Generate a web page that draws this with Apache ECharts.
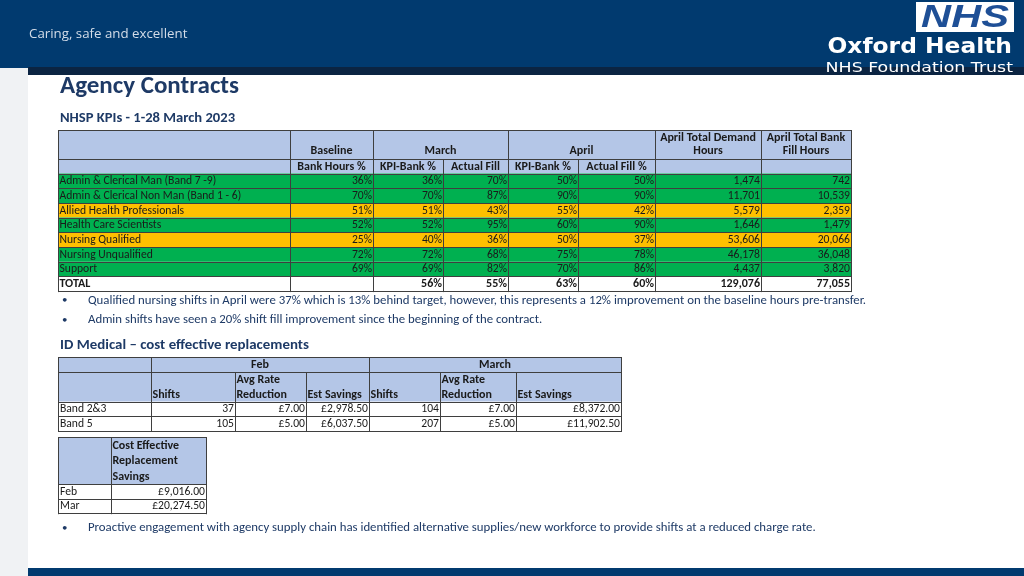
<!DOCTYPE html>
<html><head><meta charset="utf-8">
<script src="https://cdn.jsdelivr.net/npm/echarts@6/dist/echarts.min.js"></script>
<style>html,body{margin:0;padding:0;background:#fff}#c{width:1024px;height:576px}</style>
</head><body><div id="c"></div>
<script>
// ---------------- DATA ----------------
const kpiCategories = ['Admin & Clerical Man (Band 7 -9)', 'Admin & Clerical Non Man (Band 1 - 6)', 'Allied Health Professionals', 'Health Care Scientists', 'Nursing Qualified', 'Nursing Unqualified', 'Support'];
const baselineBankPct = [36, 70, 51, 52, 25, 72, 69];
const marchKpiBankPct = [36, 70, 51, 52, 40, 72, 69];
const marchActualFillPct = [70, 87, 43, 95, 36, 68, 82];
const aprilKpiBankPct = [50, 90, 55, 60, 50, 75, 70];
const aprilActualFillPct = [50, 90, 42, 90, 37, 78, 86];
const aprilDemandHours = [1474, 11701, 5579, 1646, 53606, 46178, 4437];
const aprilBankFillHours = [742, 10539, 2359, 1479, 20066, 36048, 3820];
const kpiStatus = ['green', 'green', 'amber', 'green', 'amber', 'green', 'green'];
const kpiTotalLabel = 'TOTAL';
const kpiTotals = [null, 56, 55, 63, 60, 129076, 77055];

const idBands = ['Band 2&3', 'Band 5'];
const febShifts = [37, 105];
const febAvgRateReduction = [7.00, 5.00];
const febEstSavings = [2978.50, 6037.50];
const marShifts = [104, 207];
const marAvgRateReduction = [7.00, 5.00];
const marEstSavings = [8372.00, 11902.50];

const savingMonths = ['Feb', 'Mar'];
const savingValues = [9016.00, 20274.50];

const bullets1 = [
  'Qualified nursing shifts in April were 37% which is 13% behind target, however, this represents a 12% improvement on the baseline hours pre-transfer.',
  'Admin shifts have seen a 20% shift fill improvement since the beginning of the contract.'
];
const bullets2 = ['Proactive engagement with agency supply chain has identified alternative supplies/new workforce to provide shifts at a reduced charge rate.'];

// ---------------- HELPERS ----------------
const FONT = 'Carlito, Lato, "Open Sans", sans-serif';
const NAVY = '#1e3a66';
const HEAD = '#b4c6e7';
const GREEN = '#00b050';
const AMBER = '#ffc000';
const LINE = '#3f3f3f';
const FS = 11.6;   // regular table text
const FB = 12;     // bold table text
const els = [];
function rect(x, y, w, h, fill, z) {
  els.push({ type: 'rect', silent: true, z: z || 1, shape: { x, y, width: w, height: h }, style: { fill } });
}
function hline(x1, x2, y, c) {
  els.push({ type: 'line', silent: true, z: 2, shape: { x1, y1: Math.round(y) + 0.5, x2, y2: Math.round(y) + 0.5 }, style: { stroke: c || LINE, lineWidth: 1 } });
}
function vline(x, y1, y2, c) {
  els.push({ type: 'line', silent: true, z: 2, shape: { x1: Math.round(x) + 0.5, y1, x2: Math.round(x) + 0.5, y2 }, style: { stroke: c || LINE, lineWidth: 1 } });
}
function text(t, x, y, o) {
  o = o || {};
  const size = o.size || (o.weight === 'bold' ? FB : FS);
  const font = (o.italic ? 'italic ' : '') + (o.weight || 'normal') + ' ' + size + 'px ' + (o.family || FONT);
  const el = { type: 'text', silent: true, z: 3, style: {
    text: String(t), x, y, fill: o.color || '#1a1a1a', font,
    align: o.align || 'left', verticalAlign: o.va || 'middle',
    textAlign: o.align || 'left', textVerticalAlign: o.va || 'middle'
  } };
  if (o.scaleX) { el.style.x = 0; el.style.y = 0; el.x = x; el.y = y; el.scaleX = o.scaleX; }
  els.push(el);
}
const pct = v => v + '%';
const num = v => v.toLocaleString('en-GB');
const gbp = v => '£' + v.toLocaleString('en-GB', { minimumFractionDigits: 2, maximumFractionDigits: 2 });

// ---------------- SLIDE FRAME ----------------
rect(0, 0, 1024, 576, '#ffffff', 0);
rect(0, 0, 28, 576, '#f0f2f4', 0);
rect(0, 0, 1024, 68, '#013a6f', 0);
rect(28, 67, 996, 8, '#0b2442', 0);
rect(28, 568, 996, 8, '#013a6f', 0);
text('Caring, safe and excellent', 29, 34, { size: 13.3, color: '#d3dce8', family: '"Open Sans", Lato, sans-serif' });
rect(916, 2, 98, 30, '#ffffff', 1);
text('NHS', 965, 18, { size: 32, weight: 'bold', italic: true, color: '#1e4f96', align: 'center', family: '"Liberation Sans", Arial, sans-serif', scaleX: 1.3 });
text('Oxford Health', 1012, 48, { size: 20.5, weight: 'bold', color: '#ffffff', align: 'right', family: '"DejaVu Sans", sans-serif', scaleX: 1.14 });
text('NHS Foundation Trust', 1013, 68, { size: 14.5, color: '#ffffff', align: 'right', family: '"DejaVu Sans", sans-serif', scaleX: 1.2 });

text('Agency Contracts', 60, 87, { size: 25, weight: 'bold', color: NAVY });
text('NHSP KPIs - 1-28 March 2023', 60, 118, { size: 14.6, weight: 'bold', color: NAVY });

// ---------------- TABLE 1 ----------------
const c1 = [58, 290, 373, 443, 508, 578, 655, 761, 851];
const t1top = 130, t1h1 = 159, t1h2 = 173.5, t1rh = 14.7;
rect(c1[0], t1top, c1[8] - c1[0], t1h2 - t1top, HEAD);
const t1cols = [baselineBankPct, marchKpiBankPct, marchActualFillPct, aprilKpiBankPct, aprilActualFillPct, aprilDemandHours, aprilBankFillHours];
kpiCategories.forEach((name, i) => {
  const y = t1h2 + i * t1rh;
  rect(c1[0], y, c1[8] - c1[0], t1rh, kpiStatus[i] === 'amber' ? AMBER : GREEN);
  text(name, c1[0] + 1.5, y + t1rh / 2 + 0.5, {});
  t1cols.forEach((col, j) => {
    text(j < 5 ? pct(col[i]) : num(col[i]), c1[j + 2] - 1, y + t1rh / 2 + 0.5, { align: 'right' });
  });
});
const t1tot = t1h2 + kpiCategories.length * t1rh;
const t1bot = t1tot + t1rh;
text(kpiTotalLabel, c1[0] + 1.5, t1tot + t1rh / 2 + 0.5, { weight: 'bold' });
kpiTotals.forEach((v, j) => {
  if (v === null) return;
  text(j < 5 ? pct(v) : num(v), c1[j + 2] - 1, t1tot + t1rh / 2 + 0.5, { align: 'right', weight: 'bold' });
});
// header texts
const hb = { weight: 'bold', align: 'center' };
text('Baseline', (c1[1] + c1[2]) / 2, 151, hb);
text('March', (c1[2] + c1[4]) / 2, 151, hb);
text('April', (c1[4] + c1[6]) / 2, 151, hb);
text('April Total Demand', (c1[6] + c1[7]) / 2, 137.5, hb);
text('Hours', (c1[6] + c1[7]) / 2, 151, hb);
text('April Total Bank', (c1[7] + c1[8]) / 2, 137.5, hb);
text('Fill Hours', (c1[7] + c1[8]) / 2, 151, hb);
['Bank Hours %', 'KPI-Bank %', 'Actual Fill', 'KPI-Bank %', 'Actual Fill %'].forEach((h, j) => {
  text(h, (c1[j + 1] + c1[j + 2]) / 2, 166.5, hb);
});
// grid lines
hline(c1[0], c1[8] + 1, t1top);
hline(c1[0], c1[8] + 1, t1h1);
for (let i = 0; i <= kpiCategories.length + 1; i++) hline(c1[0], c1[8] + 1, t1h2 + i * t1rh);
[0, 1, 2, 4, 6, 7, 8].forEach(k => vline(c1[k], t1top, t1bot + 1));
[3, 5].forEach(k => vline(c1[k], t1h1, t1bot + 1));

// bullets 1
bullets1.forEach((b, i) => {
  const y = 300.5 + i * 19.5;
  text('•', 62, y, { size: 11, color: NAVY });
  text(b, 88, y, { size: 12.8, color: NAVY });
});

// ---------------- TABLE 2 ----------------
text('ID Medical – cost effective replacements', 60, 345.5, { size: 14.9, weight: 'bold', color: NAVY });
const c2 = [58, 151, 235, 306, 369, 440, 516, 621];
const t2top = 357, t2h1 = 372, t2h2 = 401.5, t2rh = 14.6;
rect(c2[0], t2top, c2[7] - c2[0], t2h2 - t2top, HEAD);
text('Feb', (c2[1] + c2[4]) / 2, 364.5, hb);
text('March', (c2[4] + c2[7]) / 2, 364.5, hb);
const sub2 = [['Shifts'], ['Avg Rate', 'Reduction'], ['Est Savings']];
[1, 4].forEach(base => {
  sub2.forEach((lines, j) => {
    const x = c2[base + j] + 1.5;
    if (lines.length === 2) {
      text(lines[0], x, 380, { weight: 'bold' });
      text(lines[1], x, 394.5, { weight: 'bold' });
    } else text(lines[0], x, 394.5, { weight: 'bold' });
  });
});
const t2cols = [febShifts.map(num), febAvgRateReduction.map(gbp), febEstSavings.map(gbp), marShifts.map(num), marAvgRateReduction.map(gbp), marEstSavings.map(gbp)];
idBands.forEach((b, i) => {
  const y = t2h2 + i * t2rh + t2rh / 2 + 0.5;
  text(b, c2[0] + 2, y, {});
  t2cols.forEach((col, j) => text(col[i], c2[j + 2] - 1, y, { align: 'right' }));
});
const t2bot = t2h2 + idBands.length * t2rh;
hline(c2[0], c2[7] + 1, t2top);
hline(c2[0], c2[7] + 1, t2h1);
hline(c2[0], c2[7] + 1, t2h2);
for (let i = 1; i <= idBands.length; i++) hline(c2[0], c2[7] + 1, t2h2 + i * t2rh);
[0, 1, 4, 7].forEach(k => vline(c2[k], t2top, t2bot + 1));
[2, 3, 5, 6].forEach(k => vline(c2[k], t2h1, t2bot + 1));

// ---------------- TABLE 3 ----------------
const c3 = [58, 111, 206];
const t3top = 437, t3h = 484, t3rh = 14.6;
rect(c3[0], t3top, c3[2] - c3[0], t3h - t3top, HEAD);
['Cost Effective', 'Replacement', 'Savings'].forEach((l, i) => text(l, c3[1] + 1.5, 445.5 + i * 15.5, { weight: 'bold' }));
savingMonths.forEach((m, i) => {
  const y = t3h + i * t3rh + t3rh / 2 + 0.5;
  text(m, c3[0] + 2, y, {});
  text(gbp(savingValues[i]), c3[2] - 1, y, { align: 'right' });
});
const t3bot = t3h + savingMonths.length * t3rh;
hline(c3[0], c3[2] + 1, t3top);
hline(c3[0], c3[2] + 1, t3h);
for (let i = 1; i <= savingMonths.length; i++) hline(c3[0], c3[2] + 1, t3h + i * t3rh);
c3.forEach(x => vline(x, t3top, t3bot + 1));

bullets2.forEach((b, i) => {
  text('•', 62, 528, { size: 11, color: NAVY });
  text(b, 88, 528, { size: 12.8, color: NAVY });
});

const chart = echarts.init(document.getElementById('c'), null, { renderer: 'canvas' });
chart.setOption({ animation: false, graphic: { elements: els } });
</script>
</body></html>
